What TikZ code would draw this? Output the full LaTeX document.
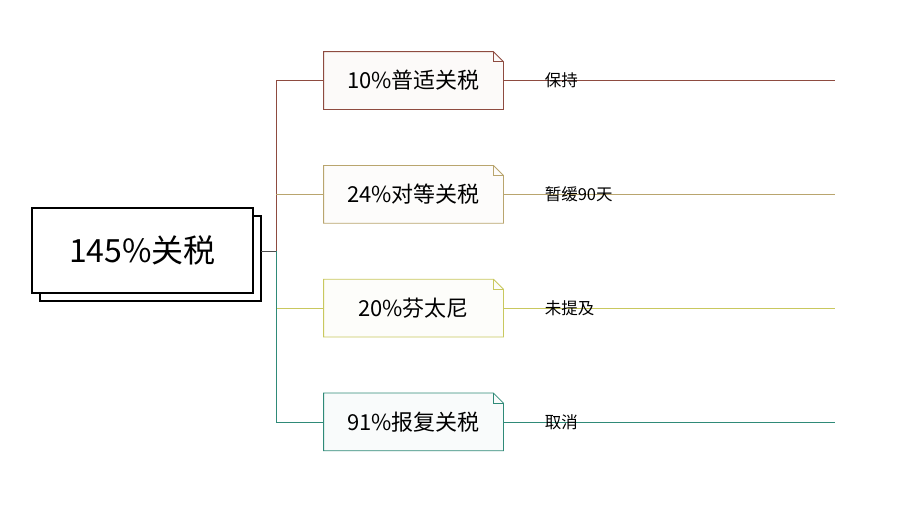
\documentclass[tikz,border=0pt]{standalone}
\usepackage{fontspec}
\setmainfont{Noto Sans CJK SC}
\usetikzlibrary{positioning}
\definecolor{cA}{HTML}{8E4B40}
\definecolor{cB}{HTML}{B9A56E}
\definecolor{cC}{HTML}{C9C85E}
\definecolor{cD}{HTML}{2F8A78}
\newcommand{\dogear}[2]{%
  \draw[#2,fill=#2!3] (#1.south west) -- (#1.north west) -- ([xshift=-10pt]#1.north east)
    -- ([yshift=-10pt]#1.north east) -- (#1.south east) -- cycle;
  \draw[#2] ([xshift=-10pt]#1.north east) -- ([xshift=-10pt,yshift=-10pt]#1.north east) -- ([yshift=-10pt]#1.north east);}
\begin{document}
\begin{tikzpicture}[x=1pt,y=-1pt,thick,node distance = 56pt]
\tikzstyle{leaf}=[rectangle,minimum width=179pt,minimum height=57pt,inner sep=0pt,font=\fontsize{22}{22}\selectfont]
\tikzstyle{note}=[anchor=south west,inner sep=1pt,font=\fontsize{16.5}{16.5}\selectfont]
\useasboundingbox (0,0) rectangle (923,504);
% root
\draw[fill=white,line width=1.2pt] (40,216) rectangle (261,301);
\node[rectangle,draw,fill=white,line width=1.2pt,minimum width=221pt,minimum height=85pt,font=\fontsize{32}{32}\selectfont] (root) at (142.5,250.5) {145\%关税};
\coordinate (rootout) at (261,251);
\coordinate (trunk) at (276,251);
% leaves
\node[leaf] (t1) at (413.5,80.5) {10\%普适关税};
\node[leaf] (t2) [below = of t1] {24\%对等关税};
\node[leaf] (t3) [below = of t2] {20\%芬太尼};
\node[leaf] (t4) [below = of t3] {91\%报复关税};
\dogear{t1}{cA}
\dogear{t2}{cB}
\dogear{t3}{cC}
\dogear{t4}{cD}
\node[leaf] at (t1) {10\%普适关税};
\node[leaf] at (t2) {24\%对等关税};
\node[leaf] at (t3) {20\%芬太尼};
\node[leaf] at (t4) {91\%报复关税};
% connectors
\draw[black!70,thin] (rootout) -- (trunk);
\draw[cA,thin] (trunk) |- (t1.west);
\draw[cB,thin] (trunk |- t2.west) -- (t2.west);
\draw[cC,thin] (trunk |- t3.west) -- (t3.west);
\draw[cD,thin] (trunk) |- (t4.west);
\foreach \t/\c/\s in {t1/cA/保持,t2/cB/暂缓90天,t3/cC/未提及,t4/cD/取消}{
  \coordinate (\t end) at ([xshift=332pt]\t.east);
  \draw[\c,thin] (\t.east) -- (\t end);
  \node[note] (\t note) at ([xshift=40pt,yshift=-9pt]\t.east) {\s};
}
\end{tikzpicture}
\end{document}
